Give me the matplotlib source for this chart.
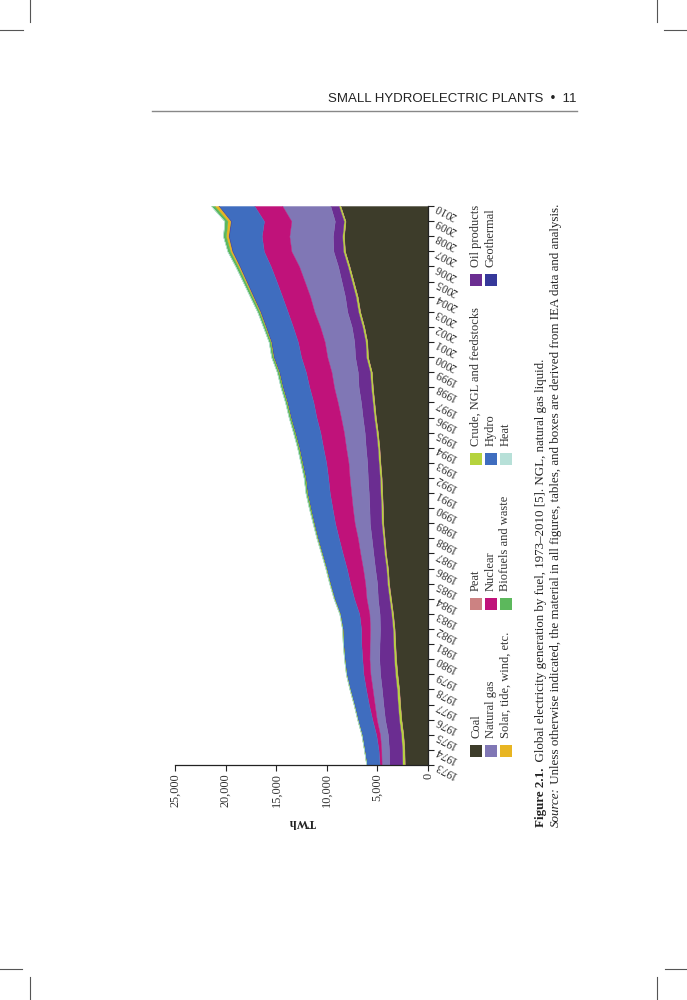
import numpy as np
import matplotlib
matplotlib.use('Agg')
import matplotlib.pyplot as plt
from matplotlib.patches import Rectangle
from matplotlib.lines import Line2D

years = list(range(1973, 2011))
coal = [2300, 2330, 2440, 2630, 2750, 2850, 3020, 3150, 3230, 3300, 3450, 3650, 3850,
        3950, 4150, 4280, 4420, 4450, 4520, 4580, 4700, 4800, 4950, 5150, 5300, 5450,
        5550, 5930, 6000, 6300, 6700, 6950, 7350, 7750, 8200, 8300, 8150, 8650]
peat = [25, 26, 27, 28, 30, 30, 32, 33, 34, 35, 36, 38, 40, 40, 41, 42, 43, 42, 38,
        35, 33, 32, 30, 31, 30, 28, 27, 28, 29, 30, 31, 30, 28, 29, 30, 29, 28, 30]
crude = [220, 215, 205, 210, 215, 210, 200, 185, 170, 160, 150, 150, 140, 140, 135, 135,
         140, 150, 150, 155, 150, 150, 150, 155, 155, 160, 160, 165, 160, 160, 170, 170,
         165, 160, 160, 155, 150, 150]
oil_products = [1300, 1290, 1290, 1380, 1420, 1470, 1480, 1450, 1360, 1250, 1150, 1120,
                1000, 1100, 1080, 1120, 1150, 1150, 1150, 1180, 1130, 1170, 1130, 1120,
                1140, 1220, 1200, 1080, 1100, 1050, 1080, 1050, 1000, 950, 960, 920, 880, 820]
natural_gas = [740, 760, 780, 820, 860, 920, 960, 970, 980, 990, 1010, 1120, 1180, 1200,
               1290, 1360, 1500, 1650, 1740, 1800, 1850, 1950, 2050, 2150, 2300, 2430,
               2600, 2750, 2920, 3120, 3250, 3450, 3650, 3850, 4150, 4300, 4300, 4750]
nuclear = [200, 270, 380, 440, 570, 650, 690, 710, 820, 880, 1000, 1220, 1480, 1600, 1740,
           1880, 1930, 2010, 2110, 2120, 2200, 2260, 2330, 2420, 2400, 2440, 2530, 2590,
           2650, 2690, 2640, 2760, 2770, 2800, 2720, 2730, 2700, 2760]
hydro = [1290, 1410, 1430, 1450, 1470, 1590, 1690, 1750, 1780, 1820, 1900, 1950, 1980,
         2010, 2030, 2080, 2080, 2150, 2220, 2230, 2350, 2370, 2490, 2530, 2580, 2620,
         2630, 2700, 2620, 2660, 2680, 2830, 2950, 3050, 3100, 3250, 3260, 3500]
geothermal = [7, 8, 8, 9, 9, 10, 11, 13, 14, 16, 18, 20, 24, 26, 28, 30, 32, 36, 37, 38,
              39, 40, 40, 42, 43, 45, 48, 52, 53, 54, 55, 57, 58, 60, 62, 64, 66, 68]
solar = [0.5, 0.5, 0.6, 0.6, 0.7, 0.7, 0.8, 0.9, 1, 1, 1.1, 1.2, 1.5, 1.7, 2, 2.5, 3, 4,
         5, 6, 7, 8, 9, 11, 13, 16, 22, 32, 39, 53, 65, 85, 107, 135, 176, 225, 280, 370]
biofuels = [20, 21, 22, 24, 26, 28, 30, 33, 36, 40, 45, 52, 60, 68, 75, 85, 100, 130, 135,
            140, 145, 150, 155, 155, 160, 160, 165, 165, 170, 185, 200, 215, 230, 250, 265,
            280, 300, 330]
heat = [0, 0, 0, 0, 0, 0, 0, 0, 0, 0, 0, 0, 0, 0, 0, 0, 0, 1, 1, 1, 1, 1, 1, 1, 1, 1, 2,
        2, 2, 3, 3, 4, 4, 5, 5, 6, 6, 7]

value_ticks = [0, 5000, 10000, 15000, 20000, 25000]

# stacking order, legend label, colour
series = [
    ('Coal', coal, '#3d3c2a'),
    ('Peat', peat, '#cc8282'),
    ('Crude, NGL and feedstocks', crude, '#b5d33d'),
    ('Oil products', oil_products, '#6b2d91'),
    ('Natural gas', natural_gas, '#8077b5'),
    ('Nuclear', nuclear, '#c0127a'),
    ('Hydro', hydro, '#3f6dbf'),
    ('Geothermal', geothermal, '#36389a'),
    ('Solar, tide, wind, etc.', solar, '#e8b522'),
    ('Biofuels and waste', biofuels, '#5cb85c'),
    ('Heat', heat, '#b7e0d8'),
]

W, H = 687, 1000


def fx(px):
    return px / W


def fy(py):
    return 1 - py / H


plt.rcParams['font.family'] = ['Liberation Serif', 'DejaVu Serif']
fig = plt.figure(figsize=(6.87, 10), dpi=100)

# chart is printed turned a quarter turn on the page: years run up, TWh run left
ax = fig.add_axes([fx(175), fy(765), (428 - 175) / W, (765 - 206) / H])
base = np.zeros(len(years))
for name, vals, col in series:
    top = base + np.array(vals, dtype=float)
    ax.fill_betweenx(years, base, top, facecolor=col, edgecolor=col, lw=0.3)
    base = top

ax.set_xlim(25000, 0)
ax.set_ylim(1973, 2010)
ax.spines[['top', 'left']].set_visible(False)
for s in ('bottom', 'right'):
    ax.spines[s].set_linewidth(0.9)
    ax.spines[s].set_color('#222222')
ax.yaxis.tick_right()
ax.set_yticks(years)
ax.set_yticklabels([str(y) for y in years], rotation=152, ha='right', va='center',
                   rotation_mode='anchor', fontsize=8.3, color='#333333')
ax.set_xticks(value_ticks)
ax.set_xticklabels([f'{v:,}' for v in value_ticks], rotation=90, fontsize=8.8,
                   color='#333333')
ax.tick_params(direction='out', length=4, width=0.8, color='#222222', pad=2)

fig.text(fx(302), fy(822), 'TWh', rotation=180, ha='center', va='center',
         fontsize=8.8, fontweight='bold', color='#222222')

# legend, drawn turned like the chart (four entries per original row)
col_x = [476, 491, 505.5]
group_y = [757, 610, 465, 286]
for i, (name, vals, col) in enumerate(series):
    g, c = i % 4, i // 4
    cx, yb = col_x[c], group_y[g]
    fig.add_artist(Rectangle((fx(cx - 6), fy(yb)), 12 / W, 12 / H,
                             transform=fig.transFigure, facecolor=col, edgecolor='none'))
    fig.text(fx(cx), fy(yb - 19), name, rotation=90, rotation_mode='anchor',
             ha='left', va='center', fontsize=9, color='#333333')

# caption
renderer = fig.canvas.get_renderer()


def caption_line(x, y0, parts):
    y = fy(y0)
    for txt, kw in parts:
        t = fig.text(fx(x), y, txt, rotation=90, rotation_mode='anchor', ha='left',
                     va='center', fontsize=9.4, color='#222222', **kw)
        bb = t.get_window_extent(renderer=renderer)
        y += bb.height / fig.bbox.height


caption_line(541, 827, [('Figure 2.1.', {'fontweight': 'bold'}),
                        ('  Global electricity generation by fuel, 1973\u20132010 [5]. '
                         'NGL, natural gas liquid.', {})])
caption_line(556, 827, [('Source:', {'style': 'italic'}),
                        (' Unless otherwise indicated, the material in all figures, tables, '
                         'and boxes are derived from IEA data and analysis.', {})])

# running head
fig.text(fx(577), fy(102), 'SMALL HYDROELECTRIC PLANTS  \u2022  11', ha='right',
         va='baseline', fontsize=9.5, family='Liberation Sans', color='#222222')
fig.add_artist(Line2D([fx(152), fx(577)], [fy(110.5), fy(110.5)], lw=1.0,
                      color='#888888', transform=fig.transFigure))

# crop marks
marks = [
    ([30, 30], [0, 22]), ([0, 23], [30, 30]),
    ([657, 657], [0, 22]), ([664, 687], [30, 30]),
    ([0, 22], [969, 969]), ([30, 30], [977, 1000]),
    ([665, 687], [969, 969]), ([657, 657], [977, 1000]),
]
for xs, ys in marks:
    fig.add_artist(Line2D([fx(v) for v in xs], [fy(v) for v in ys], lw=0.8,
                          color='#555555', transform=fig.transFigure))

fig.savefig('out.png', dpi=100, facecolor='white')
